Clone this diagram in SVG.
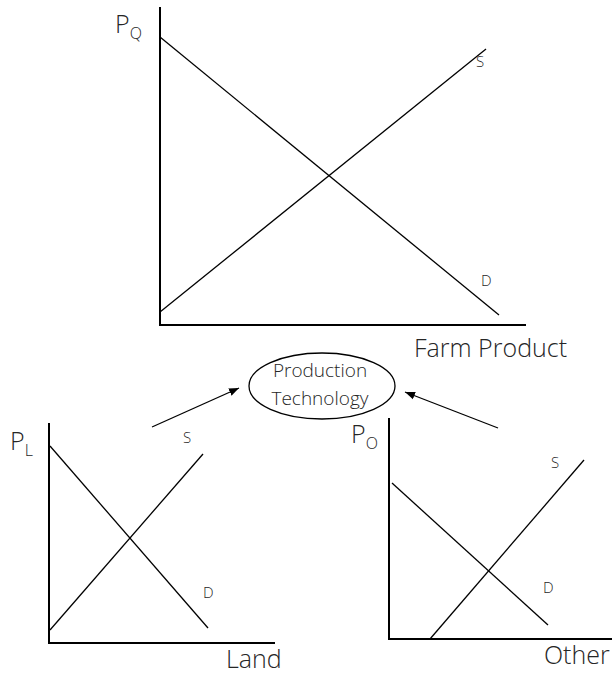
<svg xmlns="http://www.w3.org/2000/svg" width="612" height="675" viewBox="0 0 612 675">
<style>
.ax{stroke:#000;stroke-width:2;fill:none}
.cv{stroke:#000;stroke-width:1.3;fill:none}
.t{font-family:"Open Sans","Liberation Sans",sans-serif;font-weight:300;fill:#262626}
.big{font-size:25px}
.sub{font-size:16px}
.sm{font-size:15px}
.el{font-size:19px}
</style>
<defs>
<marker id="ah" viewBox="0 0 10 10" refX="10" refY="5" markerWidth="10" markerHeight="10" markerUnits="userSpaceOnUse" orient="auto">
<path d="M0,1 L10,5 L0,9 z" fill="#000"/>
</marker>
</defs>
<rect width="612" height="675" fill="#fff"/>
<g id="farm-product">
<path class="ax" d="M160,7 V325 H526"/>
<line class="cv" x1="160" y1="37" x2="499" y2="315"/>
<line class="cv" x1="160" y1="312" x2="486" y2="49"/>
<text class="t big" x="115" y="33">P<tspan class="sub" dy="6">Q</tspan></text>
<text class="t sm" x="476" y="67">S</text>
<text class="t sm" x="481" y="286">D</text>
<text class="t big" x="414" y="357">Farm Product</text>
</g>
<g id="production-technology">
<ellipse cx="322" cy="386" rx="73" ry="33" fill="#fff" stroke="#000" stroke-width="1.3"/>
<text class="t el" x="320" y="377" text-anchor="middle">Production</text>
<text class="t el" x="320" y="405" text-anchor="middle">Technology</text>
</g>
<g id="land">
<path class="ax" d="M49,423 V643 H275"/>
<line class="cv" x1="50" y1="446" x2="208" y2="628"/>
<line class="cv" x1="50" y1="630" x2="203" y2="454"/>
<text class="t big" x="10" y="450">P<tspan class="sub" dy="6">L</tspan></text>
<text class="t sm" x="183" y="443">S</text>
<text class="t sm" x="203" y="598">D</text>
<text class="t big" x="226" y="668">Land</text>
</g>
<g id="other">
<path class="ax" d="M389,418 V639 H612"/>
<line class="cv" x1="392" y1="483" x2="548" y2="625"/>
<line class="cv" x1="430" y1="639" x2="584" y2="460"/>
<text class="t big" x="351" y="443">P<tspan class="sub" dy="6">O</tspan></text>
<text class="t sm" x="551" y="468">S</text>
<text class="t sm" x="543" y="593">D</text>
<text class="t big" x="544" y="664">Other</text>
</g>
<g id="connectors">
<line class="cv" x1="152" y1="427" x2="239" y2="388" marker-end="url(#ah)"/>
<line class="cv" x1="498" y1="428" x2="405" y2="392" marker-end="url(#ah)"/>
</g>
</svg>
